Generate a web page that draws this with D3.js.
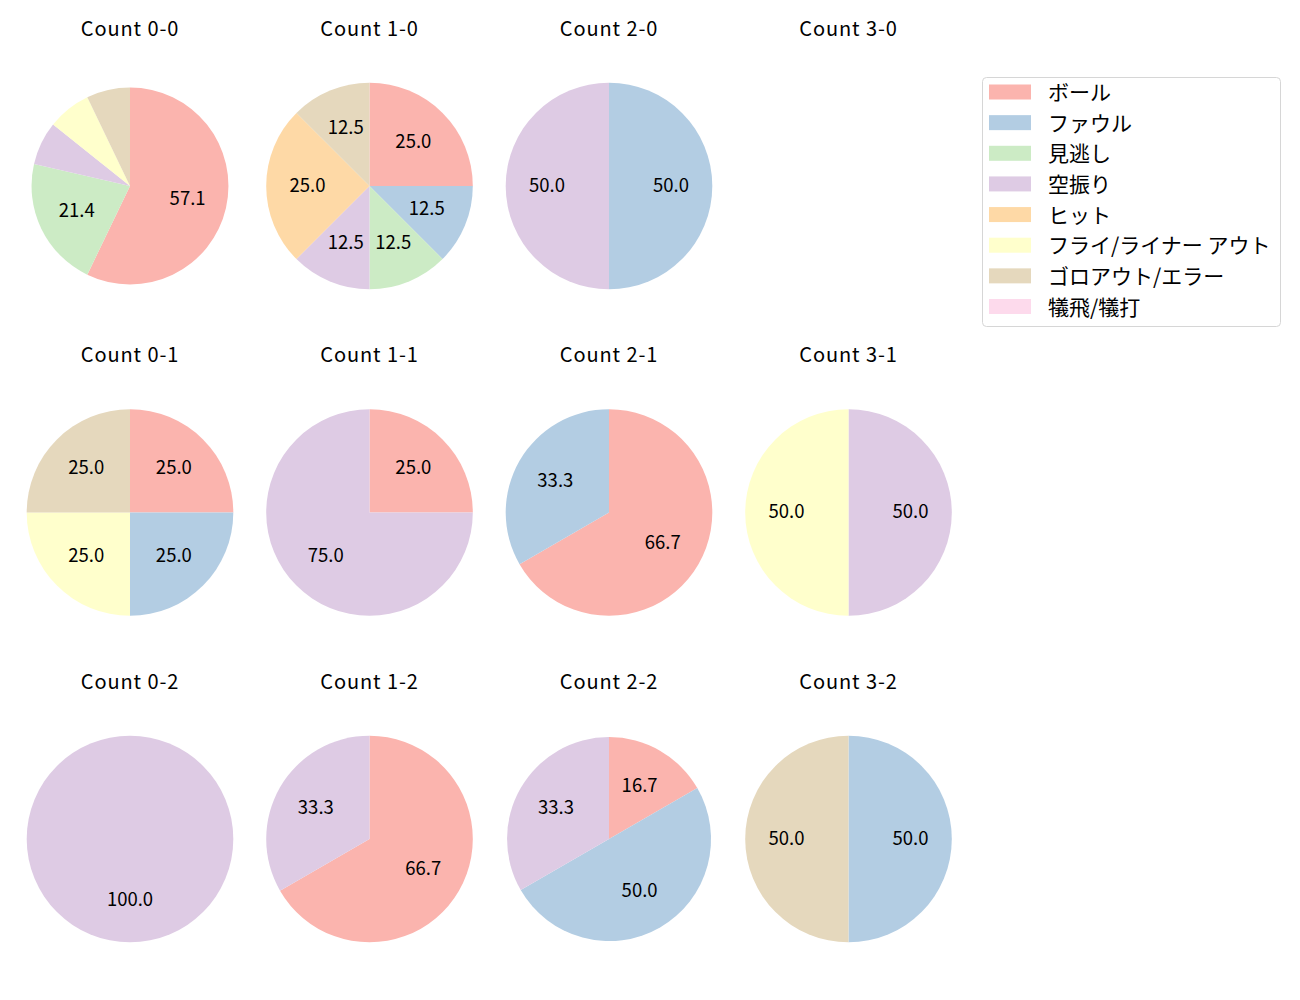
<!DOCTYPE html>
<html><head><meta charset="utf-8">
<script src="https://cdn.jsdelivr.net/npm/d3@7"></script>
<style>html,body{margin:0;padding:0;background:#fff;}svg{display:block;}</style>
</head><body>
<script>
// ---- data ----
const categories = ["ボール","ファウル","見逃し","空振り","ヒット","フライ/ライナー アウト","ゴロアウト/エラー","犠飛/犠打"];
const colors = ["#fbb4ae","#b3cde3","#ccebc5","#decbe4","#fed9a6","#ffffcc","#e5d8bd","#fddaec"];
const countLabels = ["0-0","1-0","2-0","3-0","0-1","1-1","2-1","3-1","0-2","1-2","2-2","3-2"];
const balls = [0,1,2,3,0,1,2,3,0,1,2,3];
const strikes = [0,0,0,0,1,1,1,1,2,2,2,2];
// pitch counts per category, in category order
const v00 = [8,0,3,1,0,1,1,0];
const v10 = [2,1,1,1,2,0,1,0];
const v20 = [0,1,0,1,0,0,0,0];
const v30 = [0,0,0,0,0,0,0,0];
const v01 = [1,1,0,0,0,1,1,0];
const v11 = [1,0,0,3,0,0,0,0];
const v21 = [2,1,0,0,0,0,0,0];
const v31 = [0,0,0,1,0,1,0,0];
const v02 = [0,0,0,1,0,0,0,0];
const v12 = [2,0,0,1,0,0,0,0];
const v22 = [1,3,0,2,0,0,0,0];
const v32 = [0,1,0,0,0,0,1,0];
const pieValues = [v00,v10,v20,v30,v01,v11,v21,v31,v02,v12,v22,v32];

// ---- layout ----
const W = 1300, H = 1000;
const R = 103.3;
const radiusFactor = {"0-0": 0.953, "2-2": 0.987};
const font = "'Noto Sans CJK JP','Noto Sans',sans-serif";

const svg = d3.select("body").append("svg").attr("width", W).attr("height", H);
const xScale = d3.scalePoint().domain([0,1,2,3]).range([130, 848.5]);
const yScale = d3.scalePoint().domain([0,1,2]).range([186, 839]);

const pie = d3.pie().sort(null).value(d => d.v).startAngle(0).endAngle(2*Math.PI);

countLabels.forEach((lab, i) => {
  const cx = xScale(balls[i]), cy = yScale(strikes[i]);
  const g = svg.append("g").attr("transform", `translate(${cx},${cy})`);
  g.append("text").attr("x", 0).attr("y", -150.5)
    .attr("text-anchor", "middle").attr("font-family", font).attr("font-size", 20)
    .attr("letter-spacing", 0.9)
    .attr("fill", "#000").text("Count " + lab);
  const vals = pieValues[i];
  const total = d3.sum(vals);
  if (total === 0) return;
  const r = R * (radiusFactor[lab] || 1);
  const data = vals.map((v, k) => ({v, k})).filter(d => d.v > 0);
  const arcs = pie(data);
  const arc = d3.arc().innerRadius(0).outerRadius(r);
  g.selectAll("path.w").data(arcs).join("path")
    .attr("d", arc).attr("fill", d => colors[d.data.k]);
  const lblArc = d3.arc().innerRadius(r*0.6).outerRadius(r*0.6);
  g.selectAll("text.l").data(arcs.filter(d => d.data.v / total * 100 > 10)).join("text")
    .attr("class", "l")
    .attr("transform", d => `translate(${lblArc.centroid(d)})`)
    .attr("dy", -2.5)
    .attr("text-anchor", "middle").attr("dominant-baseline", "central")
    .attr("font-family", font).attr("font-size", 18.5).attr("fill", "#000")
    .text(d => (d.data.v / total * 100).toFixed(1));
});

// ---- legend ----
const lg = svg.append("g");
lg.append("rect").attr("x", 982.5).attr("y", 77.5).attr("width", 298).attr("height", 249)
  .attr("rx", 4).attr("fill", "#fff").attr("stroke", "#d6d6d6").attr("stroke-width", 1);
const rowY = d3.scalePoint().domain(d3.range(categories.length)).range([92, 306.5]);
categories.forEach((c, k) => {
  const y = rowY(k);
  lg.append("rect").attr("x", 989).attr("y", y - 7.5).attr("width", 42).attr("height", 15).attr("fill", colors[k]);
  lg.append("text").attr("x", 1048).attr("y", y - 1).attr("dominant-baseline", "central")
    .attr("font-family", font).attr("font-size", 21).attr("fill", "#000").text(c);
});
</script>
</body></html>
